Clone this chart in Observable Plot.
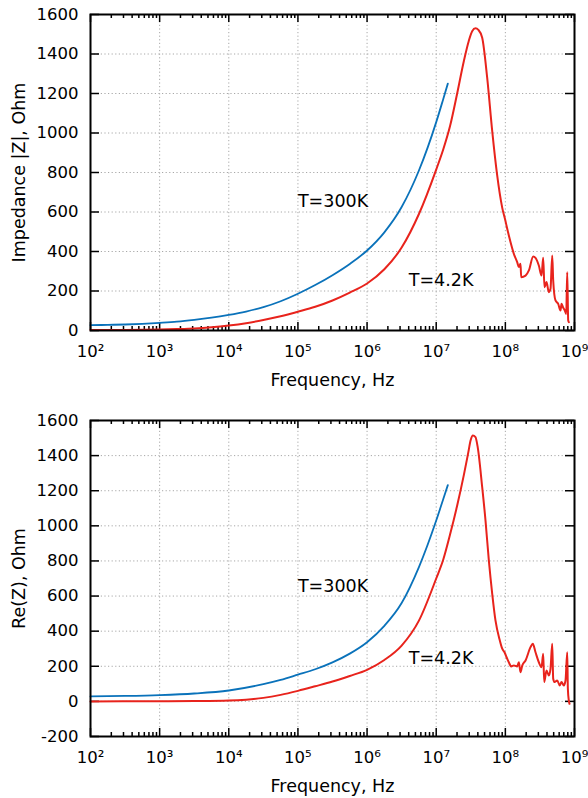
<!DOCTYPE html>
<html><head><meta charset="utf-8">
<script src="https://cdn.jsdelivr.net/npm/d3@7"></script>
<script src="https://cdn.jsdelivr.net/npm/@observablehq/plot@0.6"></script>
<style>
body{margin:0;background:#fff;}
#chart{width:588px;}
svg{display:block;}
</style></head><body><div id="chart"></div>
<script>
// ---- axis ticks ----
const xTicks = [1e2, 1e3, 1e4, 1e5, 1e6, 1e7, 1e8, 1e9];
const xTickLabels = ["10²", "10³", "10⁴", "10⁵", "10⁶", "10⁷", "10⁸", "10⁹"];
const xGrid = [1e3, 1e4, 1e5, 1e6, 1e7, 1e8];
const yTicksTop = [0, 200, 400, 600, 800, 1000, 1200, 1400, 1600];
const yGridTop = [200, 400, 600, 800, 1000, 1200, 1400];
const yTicksBottom = [-200, 0, 200, 400, 600, 800, 1000, 1200, 1400, 1600];
const yGridBottom = [0, 200, 400, 600, 800, 1000, 1200, 1400];

// ---- |Z| (top panel): [frequency Hz, Ohm] ----
const absZ300K = [
  [1e2, 27], [1.778e2, 28.5], [3.162e2, 30.5], [5.623e2, 34], [1e3, 39], [1.778e3, 45],
  [3.162e3, 54], [5.623e3, 65], [1e4, 79], [1.778e4, 96], [3.162e4, 118], [5.623e4, 148],
  [1e5, 186], [1.778e5, 230], [3.162e5, 280], [5.623e5, 337], [1e6, 405], [1.778e6, 497],
  [3.162e6, 625], [5.623e6, 810], [1e7, 1055], [1.259e7, 1170], [1.472e7, 1250]
];
const absZ4K = [
  [1e2, 2], [3.162e2, 3], [1e3, 5], [1.778e3, 7], [3.162e3, 10], [5.623e3, 16],
  [1e4, 25], [1.778e4, 37], [3.162e4, 53], [5.623e4, 72], [1e5, 95], [1.778e5, 120],
  [3.162e5, 152], [5.623e5, 192], [1e6, 238], [1.778e6, 310], [3.162e6, 420],
  [5.623e6, 590], [1e7, 815], [1.259e7, 915], [1.585e7, 1035], [1.995e7, 1195],
  [2.512e7, 1365], [2.951e7, 1465], [3.311e7, 1515], [3.698e7, 1530], [4.074e7, 1522],
  [4.624e7, 1482], [5.458e7, 1280], [6.457e7, 1009], [7.586e7, 790], [9.016e7, 621],
  [1.0e8, 557], [1.064e8, 515], [1.189e8, 447], [1.327e8, 388], [1.483e8, 346],
  [1.567e8, 321], [1.656e8, 338], [1.694e8, 270], [1.959e8, 278], [2.188e8, 304],
  [2.529e8, 375], [2.729e8, 368], [3.048e8, 329], [3.334e8, 278], [3.524e8, 368],
  [3.681e8, 219], [3.936e8, 245], [4.256e8, 194], [4.498e8, 211], [4.764e8, 380],
  [4.92e8, 253], [5.309e8, 152], [5.808e8, 135], [6.281e8, 101], [6.486e8, 135],
  [6.871e8, 115], [7.244e8, 101], [7.586e8, 84], [7.852e8, 295], [8.11e8, 51],
  [8.279e8, 42]
];

// ---- Re(Z) (bottom panel): [frequency Hz, Ohm] ----
const reZ300K = [
  [1e2, 28], [3.162e2, 31], [1e3, 36], [3.162e3, 45], [1e4, 62], [3.162e4, 98],
  [5.623e4, 122], [1e5, 152], [1.778e5, 183], [3.162e5, 222], [5.623e5, 272],
  [1e6, 337], [1.778e6, 430], [3.162e6, 560], [5.623e6, 765], [1e7, 1030],
  [1.259e7, 1150], [1.472e7, 1232]
];
const reZ4K = [
  [1e2, 0], [1e3, 1], [3.162e3, 2], [1e4, 5], [1.778e4, 10], [3.162e4, 20], [5.623e4, 37],
  [1e5, 60], [1.778e5, 86], [3.162e5, 113], [5.623e5, 145], [1e6, 180], [1.778e6, 236],
  [3.162e6, 318], [5.623e6, 460], [1e7, 700], [1.259e7, 805], [1.585e7, 950],
  [1.995e7, 1110], [2.512e7, 1290], [2.884e7, 1410], [3.162e7, 1490], [3.388e7, 1514],
  [3.698e7, 1505], [3.981e7, 1448], [4.624e7, 1220], [5.164e7, 1030], [5.768e7, 803],
  [6.457e7, 613], [7.194e7, 461], [8.318e7, 347], [9.016e7, 300], [9.727e7, 280],
  [1.064e8, 243], [1.122e8, 223], [1.213e8, 199], [1.327e8, 205], [1.483e8, 199],
  [1.567e8, 223], [1.656e8, 166], [1.754e8, 204], [1.959e8, 233], [2.312e8, 309],
  [2.495e8, 328], [2.729e8, 280], [3.048e8, 223], [3.334e8, 195], [3.524e8, 271],
  [3.648e8, 110], [3.936e8, 176], [4.256e8, 148], [4.498e8, 185], [4.764e8, 328],
  [4.92e8, 129], [5.14e8, 110], [5.623e8, 119], [6.124e8, 91], [6.486e8, 110],
  [7.015e8, 91], [7.413e8, 119], [7.852e8, 280], [8.017e8, 72], [8.279e8, 5],
  [8.472e8, -14]
];

// ---- curve labels ----
const labelsTop = [{f: 1e5, v: 653, t: "T=300K"}, {f: 4e6, v: 253, t: "T=4.2K"}];
const labelsBottom = [{f: 1e5, v: 654, t: "T=300K"}, {f: 4e6, v: 244, t: "T=4.2K"}];

const BLUE = "#0a72ba";
const RED = "#e8231c";
const FONT = "DejaVu Sans, sans-serif";
const toRows = (arr) => arr.map(([f, v]) => ({f, v}));
const xMinor = d3.scaleLog().domain([1e2, 1e9]).ticks().filter(d => !xTicks.includes(d));

function panel({height, marginTop, marginBottom, yDomain, yTicks, yGrid, yLabel, blue, red, labels}) {
  const W = 588, mL = 90, mR = 14;
  const innerW = W - mL - mR, innerH = height - marginTop - marginBottom;
  const gridStyle = {stroke: "#a8a8a8", strokeWidth: 1, strokeDasharray: "1.2,2.4"};
  const tk = {stroke: "black", strokeWidth: 1.5};
  return Plot.plot({
    width: W, height, marginLeft: mL, marginRight: mR, marginTop, marginBottom,
    style: {fontFamily: FONT, fontSize: "16.5px", color: "black", background: "white"},
    x: {type: "log", domain: [1e2, 1e9], label: null},
    y: {domain: yDomain, label: null},
    marks: [
      Plot.ruleX(xGrid, gridStyle),
      Plot.ruleY(yGrid, gridStyle),
      Plot.ruleX(xTicks, {...tk, insetTop: innerH - 8}),
      Plot.ruleX(xTicks, {...tk, insetBottom: innerH - 8}),
      Plot.ruleX(xMinor, {...tk, insetTop: innerH - 4}),
      Plot.ruleX(xMinor, {...tk, insetBottom: innerH - 4}),
      Plot.ruleY(yTicks, {...tk, insetRight: innerW - 9}),
      Plot.ruleY(yTicks, {...tk, insetLeft: innerW - 9}),
      Plot.line(toRows(blue), {x: "f", y: "v", stroke: BLUE, strokeWidth: 1.8, curve: "monotone-x"}),
      Plot.line(toRows(red), {x: "f", y: "v", stroke: RED, strokeWidth: 2, curve: "monotone-x"}),
      Plot.text(labels, {x: "f", y: "v", text: "t", textAnchor: "start", fontSize: 17.5, fill: "black"}),
      Plot.frame({stroke: "black", strokeWidth: 2}),
      Plot.axisX(xTicks, {tickSize: 0, tickPadding: 15, fontSize: 16.5, label: null,
        tickFormat: d => xTickLabels[xTicks.findIndex(t => Math.abs(t - d) / t < 1e-6)]}),
      Plot.axisY(yTicks, {tickSize: 0, tickPadding: 12, fontSize: 16.5, label: null, tickFormat: d => String(d)}),
      Plot.text([yLabel], {frameAnchor: "left", textAnchor: "middle", lineAnchor: "middle",
        rotate: -90, dx: -71, fontSize: 17.5, fill: "black"}),
      Plot.text(["Frequency, Hz"], {frameAnchor: "bottom", textAnchor: "middle", lineAnchor: "middle",
        dy: 50, fontSize: 17.5, fill: "black"})
    ]
  });
}

const chart = document.getElementById("chart");
chart.append(panel({
  height: 400, marginTop: 14, marginBottom: 70, yDomain: [0, 1600],
  yTicks: yTicksTop, yGrid: yGridTop, yLabel: "Impedance |Z|, Ohm",
  blue: absZ300K, red: absZ4K, labels: labelsTop
}));
chart.append(panel({
  height: 398, marginTop: 20, marginBottom: 62, yDomain: [-200, 1600],
  yTicks: yTicksBottom, yGrid: yGridBottom, yLabel: "Re(Z), Ohm",
  blue: reZ300K, red: reZ4K, labels: labelsBottom
}));
</script></body></html>
